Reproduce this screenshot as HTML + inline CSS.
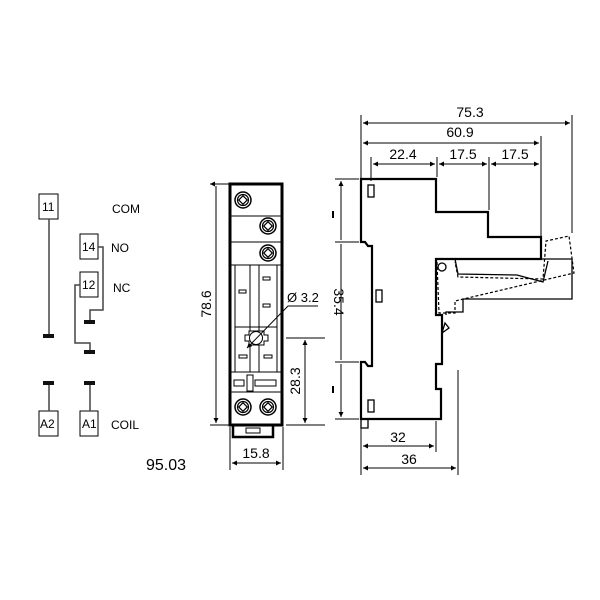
<!DOCTYPE html>
<html><head><style>html,body{margin:0;padding:0;background:#fff}svg{display:block}</style></head>
<body>
<svg width="600" height="600" viewBox="0 0 600 600" xmlns="http://www.w3.org/2000/svg" font-family="Liberation Sans, Arial, sans-serif">
<defs>
<marker id="a" viewBox="0 0 10 10" refX="10" refY="5" markerWidth="7" markerHeight="5" orient="auto-start-reverse" markerUnits="userSpaceOnUse"><path d="M0,0L10,5L0,10z" fill="#000"/></marker>
<g id="scr"><circle r="8" fill="#fff" stroke="#000" stroke-width="1.5"/><circle r="5.5" fill="none" stroke="#000" stroke-width="1.2"/><rect x="-3" y="-3" width="6" height="6" fill="none" stroke="#000" stroke-width="1.2" transform="rotate(45)"/></g>
</defs>
<g stroke="#000" fill="#fff" stroke-width="1">
<rect x="39" y="194" width="19" height="25"/>
<rect x="80" y="234" width="18" height="25"/>
<rect x="80" y="272" width="18" height="25"/>
<rect x="39" y="411" width="19" height="25"/>
<rect x="80" y="411" width="18" height="25"/>
</g>
<g stroke="#444" fill="none" stroke-width="1.5">
<path d="M49,219V335"/>
<path d="M98,247H103V310H90V320"/>
<path d="M80,285H75V343H90V350"/>
<path d="M49,385V411M90,385V411"/>
</g>
<g fill="#111">
<rect x="43" y="334" width="11" height="4"/>
<rect x="84" y="320" width="11" height="4"/>
<rect x="84" y="350" width="11" height="4"/>
<rect x="43" y="381" width="11" height="4"/>
<rect x="84" y="381" width="11" height="4"/>
</g>
<g font-size="12" fill="#000">
<text x="42" y="211">11</text><text x="82" y="251">14</text><text x="82" y="289">12</text>
<text x="40" y="428">A2</text><text x="82" y="428">A1</text>
<text x="112" y="213">COM</text><text x="111" y="252">NO</text><text x="113" y="292">NC</text><text x="111" y="429">COIL</text>
</g>
<text x="146" y="470" font-size="16">95.03</text>
<rect x="230" y="184" width="52" height="241" fill="#fff" stroke="#000" stroke-width="3"/>
<g stroke="#000" stroke-width="1" fill="none">
<path d="M231,216H281M231,242H281M231,265H281M231,372H281M231,392H281"/>
<path d="M235,265V372M250,265V372M259,265V372M277,265V372M235,327H277"/>
<rect x="239" y="290" width="7" height="3"/><rect x="263" y="277" width="7" height="3"/><rect x="263" y="304" width="7" height="3"/>
<rect x="239" y="355" width="8" height="3"/><rect x="264" y="355" width="8" height="3"/>
<rect x="234" y="380" width="10" height="6"/><rect x="247" y="375" width="6" height="16"/><rect x="255" y="380" width="21" height="6"/>
<path d="M245,335H249V331H264V335H268V341H264V345H249V341H245Z" fill="#fff"/>
<circle cx="256" cy="338" r="6.5" fill="#fff"/>
<path d="M233,425V437H273V425" stroke-width="2.5"/><rect x="246" y="428" width="14" height="5"/>
</g>
<use href="#scr" x="243" y="200"/><use href="#scr" x="268" y="226"/><use href="#scr" x="268" y="253"/>
<use href="#scr" x="243" y="407"/><use href="#scr" x="268" y="407"/>
<g stroke="#000" stroke-width="1" fill="none">
<path d="M210,184H229M210,425H229M216,186V423" marker-start="url(#a)" marker-end="url(#a)"/>
<path d="M286,338H325M286,425H325"/>
<path d="M305,340V423" marker-start="url(#a)" marker-end="url(#a)"/>
<path d="M230,427V470M283,427V470"/>
<path d="M232,463H281" marker-start="url(#a)" marker-end="url(#a)"/>
<path d="M318,306H288L247,348" marker-end="url(#a)"/>
</g>
<text x="211" y="304" font-size="14" transform="rotate(-90 211 304)" text-anchor="middle">78.6</text>
<text x="300" y="381" font-size="14" transform="rotate(-90 300 381)" text-anchor="middle">28.3</text>
<text x="256" y="458" font-size="14" text-anchor="middle">15.8</text>
<text x="287" y="302" font-size="13">Ø 3.2</text>
<g stroke="#000" stroke-width="2.2" fill="#fff">
<path d="M361,179H436V212H488V237H541V259H436V315H442V364H436V389H441V419H361V362H365L368,366H372V246H368L365,242H361Z"/>
</g>
<g stroke="#000" stroke-width="1.3" fill="none">
<path d="M436,259H572V299H463V312H446V315"/>
<path d="M455,259L458,274L517,275L543,282L548,261"/>
<circle cx="442" cy="267" r="4"/>
<path d="M445,323L442,333L449,328Z"/>
<rect x="368" y="185" width="6" height="12"/><rect x="376" y="290" width="6" height="12"/><rect x="368" y="400" width="6" height="12"/>
<path d="M361,419V428H368V419"/>
</g>
<g stroke="#000" stroke-width="1.2" fill="none" stroke-dasharray="3,2">
<path d="M437,262L439,313H455V301L574,273L569,236L546,241L543,279L458,277L455,262"/>
</g>
<g stroke="#000" stroke-width="1" fill="none">
<path d="M361,115V179M572,115V233M541,136V237M489,157V210M437,157V177M371,157V181"/>
<path d="M363,123H570" marker-start="url(#a)" marker-end="url(#a)"/>
<path d="M363,143H539" marker-start="url(#a)" marker-end="url(#a)"/>
<path d="M373,164H435" marker-start="url(#a)" marker-end="url(#a)"/>
<path d="M439,164H487" marker-start="url(#a)" marker-end="url(#a)"/>
<path d="M491,164H539" marker-start="url(#a)" marker-end="url(#a)"/>
<path d="M335,179H359M335,242H359M335,362H359M335,419H359"/>
<path d="M341,181V240M341,244V360M341,364V417" marker-start="url(#a)" marker-end="url(#a)"/>
<path d="M361,421V475M436,421V452M458,370V475"/>
<path d="M363,446H434" marker-start="url(#a)" marker-end="url(#a)"/>
<path d="M363,468H456" marker-start="url(#a)" marker-end="url(#a)"/>
<path d="M333,211V218M333,386V393" stroke-width="2"/>
</g>
<g font-size="14" text-anchor="middle">
<text x="470" y="117">75.3</text><text x="460" y="137">60.9</text>
<text x="403" y="159">22.4</text><text x="463" y="159">17.5</text><text x="515" y="159">17.5</text>
<text x="398" y="442">32</text><text x="409" y="464">36</text>
<text x="334" y="302" transform="rotate(90 334 302)">35.4</text>
</g>
</svg>
</body></html>
